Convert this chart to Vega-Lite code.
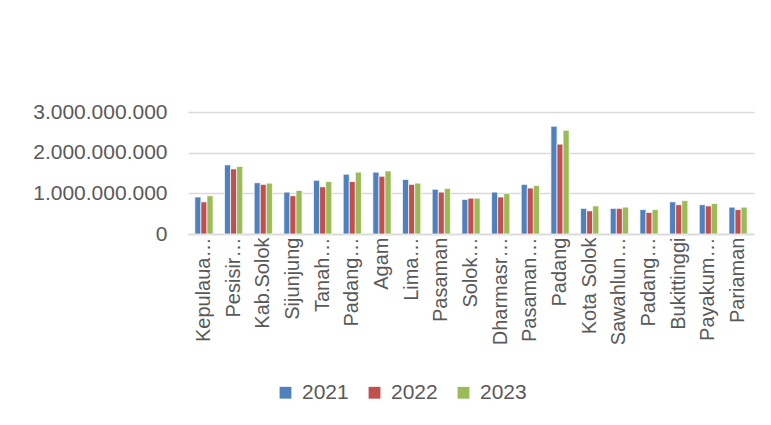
{
  "$schema": "https://vega.github.io/schema/vega-lite/v6.json",
  "autosize": "none",
  "width": 566,
  "height": 122,
  "padding": {"left": 188, "top": 112, "right": 17, "bottom": 191},
  "background": "white",
  "config": {
    "font": "Liberation Sans",
    "view": {"stroke": null},
    "locale": {"number": {"decimal": ",", "thousands": ".", "grouping": [3], "currency": ["Rp", ""]}}
  },
  "data": {
    "values": [
      {"kab": "Kepulaua…", "year": "2021", "value": 910000000},
      {"kab": "Kepulaua…", "year": "2022", "value": 790000000},
      {"kab": "Kepulaua…", "year": "2023", "value": 940000000},
      {"kab": "Pesisir…", "year": "2021", "value": 1700000000},
      {"kab": "Pesisir…", "year": "2022", "value": 1600000000},
      {"kab": "Pesisir…", "year": "2023", "value": 1660000000},
      {"kab": "Kab.Solok", "year": "2021", "value": 1260000000},
      {"kab": "Kab.Solok", "year": "2022", "value": 1220000000},
      {"kab": "Kab.Solok", "year": "2023", "value": 1250000000},
      {"kab": "Sijunjung", "year": "2021", "value": 1030000000},
      {"kab": "Sijunjung", "year": "2022", "value": 940000000},
      {"kab": "Sijunjung", "year": "2023", "value": 1070000000},
      {"kab": "Tanah…", "year": "2021", "value": 1320000000},
      {"kab": "Tanah…", "year": "2022", "value": 1160000000},
      {"kab": "Tanah…", "year": "2023", "value": 1290000000},
      {"kab": "Padang…", "year": "2021", "value": 1470000000},
      {"kab": "Padang…", "year": "2022", "value": 1290000000},
      {"kab": "Padang…", "year": "2023", "value": 1520000000},
      {"kab": "Agam", "year": "2021", "value": 1520000000},
      {"kab": "Agam", "year": "2022", "value": 1420000000},
      {"kab": "Agam", "year": "2023", "value": 1550000000},
      {"kab": "Lima…", "year": "2021", "value": 1340000000},
      {"kab": "Lima…", "year": "2022", "value": 1220000000},
      {"kab": "Lima…", "year": "2023", "value": 1250000000},
      {"kab": "Pasaman", "year": "2021", "value": 1100000000},
      {"kab": "Pasaman", "year": "2022", "value": 1030000000},
      {"kab": "Pasaman", "year": "2023", "value": 1120000000},
      {"kab": "Solok…", "year": "2021", "value": 850000000},
      {"kab": "Solok…", "year": "2022", "value": 880000000},
      {"kab": "Solok…", "year": "2023", "value": 880000000},
      {"kab": "Dharmasr…", "year": "2021", "value": 1030000000},
      {"kab": "Dharmasr…", "year": "2022", "value": 910000000},
      {"kab": "Dharmasr…", "year": "2023", "value": 1000000000},
      {"kab": "Pasaman…", "year": "2021", "value": 1220000000},
      {"kab": "Pasaman…", "year": "2022", "value": 1130000000},
      {"kab": "Pasaman…", "year": "2023", "value": 1190000000},
      {"kab": "Padang", "year": "2021", "value": 2650000000},
      {"kab": "Padang", "year": "2022", "value": 2210000000},
      {"kab": "Padang", "year": "2023", "value": 2550000000},
      {"kab": "Kota Solok", "year": "2021", "value": 630000000},
      {"kab": "Kota Solok", "year": "2022", "value": 570000000},
      {"kab": "Kota Solok", "year": "2023", "value": 690000000},
      {"kab": "Sawahlun…", "year": "2021", "value": 630000000},
      {"kab": "Sawahlun…", "year": "2022", "value": 630000000},
      {"kab": "Sawahlun…", "year": "2023", "value": 660000000},
      {"kab": "Padang…​", "year": "2021", "value": 600000000},
      {"kab": "Padang…​", "year": "2022", "value": 530000000},
      {"kab": "Padang…​", "year": "2023", "value": 600000000},
      {"kab": "Bukittinggi", "year": "2021", "value": 790000000},
      {"kab": "Bukittinggi", "year": "2022", "value": 720000000},
      {"kab": "Bukittinggi", "year": "2023", "value": 820000000},
      {"kab": "Payakum…", "year": "2021", "value": 720000000},
      {"kab": "Payakum…", "year": "2022", "value": 690000000},
      {"kab": "Payakum…", "year": "2023", "value": 750000000},
      {"kab": "Pariaman", "year": "2021", "value": 660000000},
      {"kab": "Pariaman", "year": "2022", "value": 600000000},
      {"kab": "Pariaman", "year": "2023", "value": 660000000}
    ]
  },
  "mark": {"type": "bar", "stroke": "white", "strokeWidth": 0.7},
  "encoding": {
    "x": {
      "field": "kab", "type": "nominal", "sort": null, "title": null,
      "scale": {"paddingInner": 0.386, "paddingOuter": 0.23},
      "axis": {
        "labelAngle": -90, "labelFontSize": 20, "labelColor": "#595959",
        "ticks": false, "labelPadding": 3, "domainColor": "#D9D9D9", "domainWidth": 1.5,
        "labelLimit": 200
      }
    },
    "xOffset": {"field": "year", "type": "nominal"},
    "y": {
      "field": "value", "type": "quantitative", "title": null,
      "scale": {"domain": [0, 3000000000], "nice": false},
      "axis": {
        "values": [0, 1000000000, 2000000000, 3000000000], "format": ",d",
        "labelFontSize": 21, "labelColor": "#595959", "ticks": false, "domain": false,
        "labelPadding": 21, "gridColor": "#D9D9D9", "gridWidth": 1.5
      }
    },
    "color": {
      "field": "year", "type": "nominal", "title": null,
      "scale": {"domain": ["2021", "2022", "2023"], "range": ["#4F81BD", "#C0504D", "#9BBB59"]},
      "legend": {
        "orient": "none", "direction": "horizontal", "legendX": 87, "legendY": 270,
        "symbolType": "square", "symbolSize": 140, "symbolStrokeWidth": 0,
        "labelFontSize": 21, "labelColor": "#595959", "labelOffset": 6, "columnPadding": 15
      }
    }
  }
}
